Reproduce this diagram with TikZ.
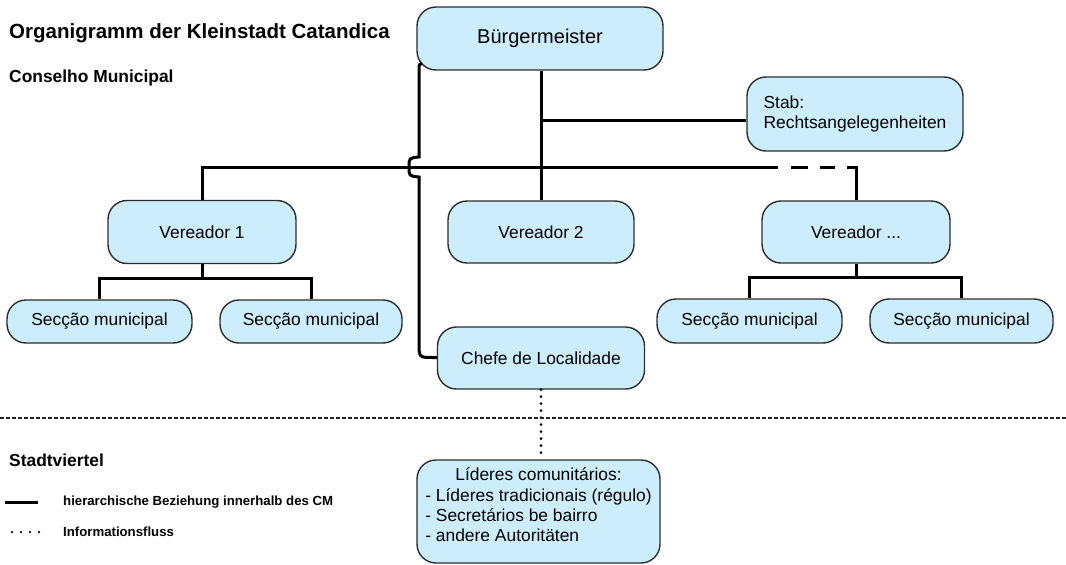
\documentclass[tikz,border=0pt]{standalone}
\usepackage{fontspec}
\setmainfont{Liberation Sans}
\usetikzlibrary{calc}
\definecolor{boxblue}{RGB}{204,238,252}
\definecolor{boxline}{RGB}{45,45,45}
\tikzset{
  box/.style={draw=boxline, fill=boxblue, line width=1.4pt, rounded corners=19pt,
    inner sep=0pt, font=\fontsize{17.4}{20}\selectfont},
  conn/.style={line width=3pt, black},
  info/.style={line width=3pt, line cap=round, dash pattern=on 0pt off 7pt},
  sep/.style={line width=1.5pt, black!85, dash pattern=on 4pt off 2pt},
  heading/.style={anchor=west, inner sep=0pt, font=\fontsize{17.4}{20}\selectfont\bfseries},
  legend/.style={anchor=west, inner sep=0pt, font=\fontsize{13.2}{15}\selectfont\bfseries}
}
\begin{document}
\begin{tikzpicture}[x=1pt, y=-1pt]
\useasboundingbox (0,0) rectangle (1066,565);

% headings
\node[heading, font=\fontsize{20.5}{24}\selectfont\bfseries] (title) at (9,33) {Organigramm der Kleinstadt Catandica};
\node[heading] (cm) at (9,78) {Conselho Municipal};
\node[heading] (sv) at (9,460) {Stadtviertel};

% boxes
\node[box, minimum width=246pt, minimum height=63pt, font=\fontsize{20}{24}\selectfont] (bm) at (540,38.5) {Bürgermeister};
\node[box, minimum width=216pt, minimum height=74pt, align=left] (stab) at (855,114) {Stab:\\Rechtsangelegenheiten};
\node[box, minimum width=188pt, minimum height=63pt] (v1) at (202,232) {Vereador 1};
\node[box, minimum width=186pt, minimum height=62pt] (v2) at (541,232) {Vereador 2};
\node[box, minimum width=188pt, minimum height=62pt] (v3) at (856,232) {Vereador ...};
\node[box, minimum width=185pt, minimum height=43pt] (s1) at (99.5,321.5) {Secção municipal};
\node[box, minimum width=182pt, minimum height=43pt] (s2) at (311,321.5) {Secção municipal};
\node[box, minimum width=185pt, minimum height=44pt] (s3) at (749.5,321) {Secção municipal};
\node[box, minimum width=183pt, minimum height=44pt] (s4) at (961.5,321) {Secção municipal};
\node[box, minimum width=207pt, minimum height=62pt] (chefe) at (541,358) {Chefe de Localidade};
\node[box, minimum width=243pt, minimum height=103pt] (lid) at (538.5,511.5)
  {\raisebox{0pt}[0pt][0pt]{\begin{tabular}{@{}l@{}}\multicolumn{1}{@{}c@{}}{Líderes comunitários:}\\[0.2pt]- Líderes tradicionais (régulo)\\[0.2pt]- Secretários be bairro\\[0.2pt]- andere Autoritäten\end{tabular}}};

% helper coordinates
\coordinate (jstab) at (541,120);
\coordinate (jmain) at (202,167);
\coordinate (dashstart) at (778,167);
\coordinate (jv3) at (847,167);
\coordinate (sepl) at (0,418);
\coordinate (sepr) at (1066,418);

% Buergermeister to Vereador 2
\draw[conn] (bm.south -| v2.north) -- (v2.north);
% Stab branch
\draw[conn] (jstab) -- (jstab -| stab.west);
% main horizontal line
\draw[conn] (v1.north) -- (jmain) -- (dashstart);
\draw[conn, dash pattern=on 0pt off 13pt on 17pt off 12pt on 15pt off 20pt] (dashstart) -- (jv3);
\draw[conn] (jv3) -- (jv3 -| v3.north) -- (v3.north);

% Vereador 1 subtree
\draw[conn] (v1.south) -- ++(0,14) -| (s1.north);
\draw[conn] (v1.south) -- ++(0,14) -| (s2.north);
% Vereador ... subtree
\draw[conn] (v3.south) -- ++(0,14) -| (s3.north);
\draw[conn] (v3.south) -- ++(0,14) -| (s4.north);

% Buergermeister to Chefe de Localidade with hop
\draw[conn] ($(bm.south west)+(6,-7)$) .. controls (419,64) .. (419,71)
  -- (419,157) .. controls (409,158) .. (409,167) .. controls (409,176) .. (419,177)
  -- (419,343) .. controls (419,357.5) .. (433,357.5) -- (chefe.west |- 0,357.5);

% information flow
\draw[info] (chefe.south) -- (chefe.south |- lid.north);

% separator
\draw[sep] (sepl) -- (sepr);

% legend
\coordinate (lg1a) at (5,502);
\coordinate (lg1b) at (38,502);
\coordinate (lg2a) at (12,532);
\coordinate (lg2b) at (40,532);
\draw[line width=3pt] (lg1a) -- (lg1b);
\draw[line width=2.5pt, line cap=round, dash pattern=on 0pt off 9pt] (lg2a) -- (lg2b);
\node[legend] (lt1) at (63,502) {hierarchische Beziehung innerhalb des CM};
\node[legend] (lt2) at (63,532) {Informationsfluss};
\end{tikzpicture}
\end{document}
